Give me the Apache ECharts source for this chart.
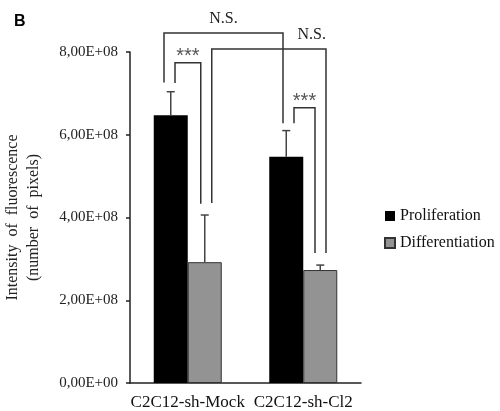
<!DOCTYPE html>
<html>
<head>
<meta charset="utf-8">
<script src="https://cdn.jsdelivr.net/npm/echarts@6/dist/echarts.min.js"></script>
<style>
  html, body { margin: 0; padding: 0; background: #fff; }
  #chart { width: 500px; height: 411px; }
</style>
</head>
<body>
<div id="chart"></div>
<script>
// data
const categories = ['C2C12-sh-Mock', 'C2C12-sh-Cl2'];
const seriesNames = ['Proliferation', 'Differentiation'];
const proliferation = [6.47e8, 5.47e8];
const proliferationErr = [0.57e8, 0.63e8];
const differentiation = [2.92e8, 2.73e8];
const differentiationErr = [1.14e8, 0.12e8];
const yMin = 0;
const yMax = 8e8;
const yStep = 2e8;

// significance brackets: [category, series] for each end, levels in axis units
const bracketLeft = [[0, 0], [0, 0], [0, 1], [1, 0]];
const bracketRight = [[1, 0], [0, 1], [1, 1], [1, 1]];
const bracketTop = [8.46e8, 7.74e8, 8.07e8, 6.65e8];
const bracketLeftFoot = [7.26e8, 7.25e8, 4.35e8, 6.28e8];
const bracketRightFoot = [6.28e8, 4.33e8, 3.14e8, 3.14e8];
const bracketLabels = ['N.S.', '***', 'N.S.', '***'];

// styling
const BAR_W = 34;
const SERIF = "'Liberation Serif', 'Times New Roman', serif";
const legNudge = [[-6.75, -3.25], [4.25, -4], [7, 5.75], [7.75, -5.25]];
const labelAlign = ['center', 'center', 'right', 'center'];

const fmtSci = (v) => {
  if (v === 0) return '0,00E+00';
  const e = Math.floor(Math.log10(v));
  const m = (v / Math.pow(10, e)).toFixed(2).replace('.', ',');
  return m + 'E+' + String(e).padStart(2, '0');
};

const barX = (api, cat, ser, value) => {
  const p = api.coord([cat, value]);
  return [p[0] + (ser === 0 ? -1 : 1) * BAR_W / 2, p[1]];
};

const errorSeries = (ser, values, errs) => ({
  type: 'custom',
  name: seriesNames[ser] + ' err',
  z: 5,
  silent: true,
  clip: false,
  data: values.map((v, i) => [i, v, v + errs[i]]),
  renderItem: (params, api) => {
    const cat = api.value(0);
    const base = barX(api, cat, ser, api.value(1));
    const top = barX(api, cat, ser, api.value(2));
    const style = { stroke: '#444', lineWidth: 1.5, fill: null };
    return {
      type: 'group',
      children: [
        { type: 'line', shape: { x1: base[0], y1: base[1], x2: top[0], y2: top[1] }, style },
        { type: 'line', shape: { x1: top[0] - 4, y1: top[1], x2: top[0] + 4, y2: top[1] }, style }
      ]
    };
  }
});

const chart = echarts.init(document.getElementById('chart'));

chart.setOption({
  animation: false,
  backgroundColor: '#fff',
  title: {
    text: 'B',
    left: 9,
    top: 9,
    textStyle: { fontFamily: "'Liberation Sans', Arial, sans-serif", fontWeight: 'bold', fontSize: 16, color: '#000' }
  },
  legend: {
    data: seriesNames,
    orient: 'vertical',
    left: 379,
    top: 203,
    itemWidth: 10,
    itemHeight: 10,
    itemGap: 11,
    icon: 'rect',
    textStyle: { fontFamily: SERIF, fontSize: 16, color: '#111' }
  },
  grid: { left: 130, right: 139, top: 52, bottom: 28 },
  xAxis: {
    type: 'category',
    data: categories,
    axisLine: { lineStyle: { color: '#222', width: 1.5 } },
    axisTick: { length: 4, lineStyle: { color: '#222', width: 1.5 } },
    axisLabel: { interval: 0, fontFamily: SERIF, fontSize: 17, color: '#111', margin: 11 }
  },
  yAxis: {
    type: 'value',
    min: yMin,
    max: yMax,
    interval: yStep,
    name: 'Intensity  of  fluorescence\n(number  of  pixels)',
    nameLocation: 'middle',
    nameGap: 86,
    nameTextStyle: { fontFamily: SERIF, fontSize: 16, color: '#222', lineHeight: 21 },
    splitLine: { show: false },
    axisLine: { show: true, lineStyle: { color: '#222', width: 1.5 } },
    axisTick: { show: true, length: 4, lineStyle: { color: '#222', width: 1.5 } },
    axisLabel: { fontFamily: SERIF, fontSize: 15, color: '#222', margin: 12, formatter: fmtSci }
  },
  series: [
    {
      type: 'bar',
      name: seriesNames[0],
      data: proliferation,
      barWidth: BAR_W,
      barGap: '0%',
      itemStyle: { color: '#000' }
    },
    {
      type: 'bar',
      name: seriesNames[1],
      data: differentiation,
      barWidth: BAR_W,
      barGap: '0%',
      itemStyle: { color: '#939393', borderColor: '#333', borderWidth: 1 }
    },
    errorSeries(0, proliferation, proliferationErr),
    errorSeries(1, differentiation, differentiationErr),
    {
      type: 'custom',
      name: 'brackets',
      z: 6,
      silent: true,
      clip: false,
      data: bracketTop.map((t, i) => [bracketLeft[i][0], t]),
      renderItem: (params, api) => {
        const i = params.dataIndex;
        const l = bracketLeft[i], r = bracketRight[i];
        const lTop = barX(api, l[0], l[1], bracketTop[i]);
        const lFoot = barX(api, l[0], l[1], bracketLeftFoot[i]);
        const rTop = barX(api, r[0], r[1], bracketTop[i]);
        const rFoot = barX(api, r[0], r[1], bracketRightFoot[i]);
        const xl = lTop[0] + legNudge[i][0];
        const xr = rTop[0] + legNudge[i][1];
        const stars = bracketLabels[i] === '***';
        const align = labelAlign[i];
        const tx = align === 'right' ? xr : (xl + xr) / 2;
        return {
          type: 'group',
          children: [
            {
              type: 'polyline',
              shape: { points: [[xl, lFoot[1]], [xl, lTop[1]], [xr, rTop[1]], [xr, rFoot[1]]] },
              style: { stroke: '#333', lineWidth: 1.5, fill: null }
            },
            {
              type: 'text',
              x: tx,
              y: stars ? lTop[1] + 4 : lTop[1] - 6,
              style: {
                text: bracketLabels[i],
                align: align,
                verticalAlign: 'bottom',
                fill: stars ? '#555' : '#222',
                font: stars ? "20px 'Liberation Sans', Arial, sans-serif" : "16px " + SERIF
              }
            }
          ]
        };
      }
    }
  ]
});
</script>
</body>
</html>
